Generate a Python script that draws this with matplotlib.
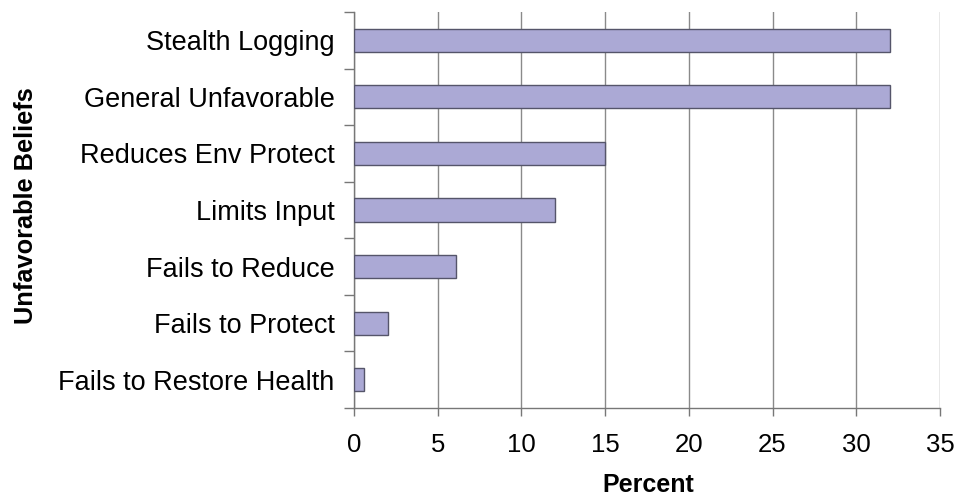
import matplotlib
matplotlib.use("Agg")
import matplotlib.pyplot as plt

categories = [
    "Stealth Logging",
    "General Unfavorable",
    "Reduces Env Protect",
    "Limits Input",
    "Fails to Reduce",
    "Fails to Protect",
    "Fails to Restore Health",
]
percent = [32, 32, 15, 12, 6.1, 2, 0.6]
x_ticks = [0, 5, 10, 15, 20, 25, 30, 35]

plt.rcParams["font.family"] = ["Liberation Sans", "DejaVu Sans"]

fig = plt.figure(figsize=(9.61, 4.98), dpi=100)
ax = fig.add_axes([0.3684, 0.1807, 0.6097, 0.7952])

pos = list(range(len(categories)))
ax.barh(pos, percent, height=0.41, color="#aba9d5", edgecolor="#55556a",
        linewidth=1.0, zorder=3)

ax.set_ylim(len(categories) - 0.5, -0.5)
ax.set_xlim(0, 35)

# category ticks sit on the band boundaries, labels at band centres
ax.set_yticks([p - 0.5 for p in pos] + [len(categories) - 0.5])
ax.set_yticklabels([])
ax.set_yticks(pos, minor=True)
ax.set_yticklabels(categories, minor=True, fontsize=19.5)
ax.tick_params(axis="y", which="minor", length=0, pad=14)
ax.tick_params(axis="y", which="major", length=7, width=1, color="#777777",
               direction="out")

ax.set_xticks(x_ticks)
ax.set_xticklabels([str(t) for t in x_ticks], fontsize=18.5)
ax.tick_params(axis="x", length=6, width=1, color="#777777", pad=12)

ax.xaxis.grid(True, color="#8a8a8a", linewidth=1.0, zorder=0)
ax.set_axisbelow(True)

for side in ("top", "right"):
    ax.spines[side].set_visible(False)
for side in ("left", "bottom"):
    ax.spines[side].set_color("#777777")
    ax.spines[side].set_linewidth(1.0)

fig.text(648 / 961, 1 - 485 / 498, "Percent", fontsize=18, fontweight="bold",
         ha="center", va="center")
fig.text(26 / 961, 1 - 206 / 498, "Unfavorable Beliefs", fontsize=18.3,
         fontweight="bold", rotation=90, ha="center", va="center")

fig.savefig("out.png", dpi=100)
